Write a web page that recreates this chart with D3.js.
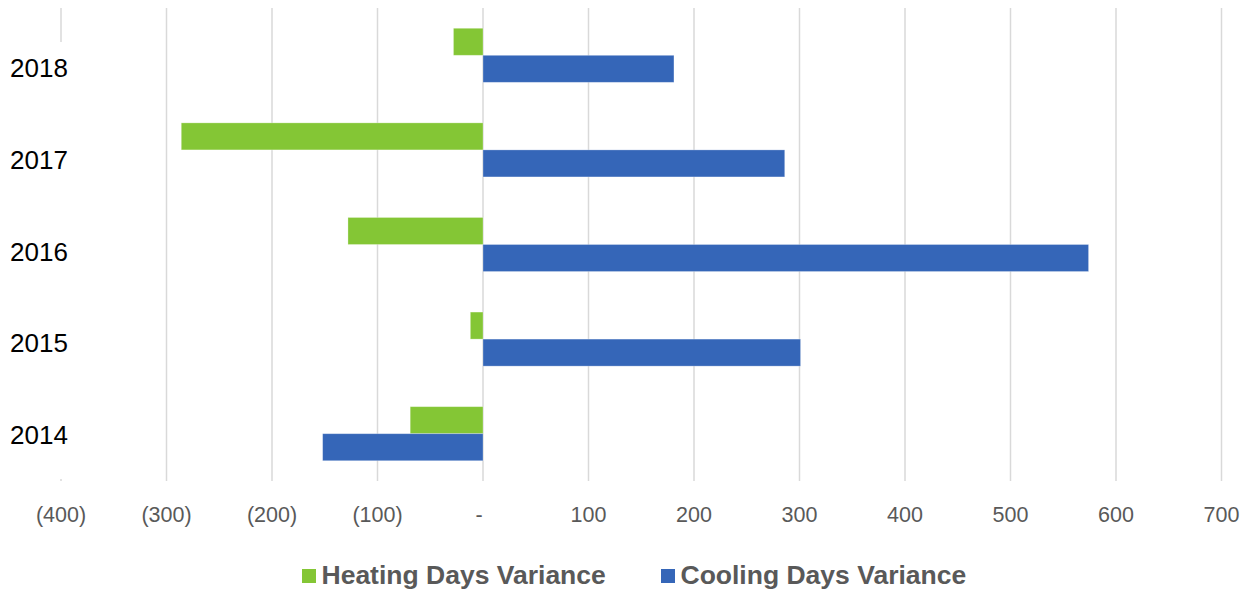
<!DOCTYPE html>
<html>
<head>
<meta charset="utf-8">
<script src="https://cdn.jsdelivr.net/npm/d3@7"></script>
<style>
  html, body { margin: 0; padding: 0; background: #fff; }
  svg { display: block; }
</style>
</head>
<body>
<svg id="chart" width="1248" height="593"></svg>
<script>
const categories = ["2018", "2017", "2016", "2015", "2014"];
const seriesNames = ["Heating Days Variance", "Cooling Days Variance"];
const heating = [-28, -286, -128, -12, -69];
const cooling = [181, 286, 574, 301, -152];
const tickValues = [-400, -300, -200, -100, 0, 100, 200, 300, 400, 500, 600, 700];
const colors = ["#84C635", "#3566B8"];

const svg = d3.select("#chart");

const x = d3.scaleLinear().domain([-400, 700]).range([61, 1221.5]);
const y = d3.scaleBand().domain(categories).range([8, 481]).paddingInner(0).paddingOuter(0);
const groupW = y.step() / 1.75;
const ySub = d3.scaleBand().domain(seriesNames).range([0, groupW]);
const yLabel = d3.scalePoint().domain(categories).range([67.5, 435]);

const fmt = v => v === 0 ? "-" : (v < 0 ? "(" + Math.abs(v) + ")" : String(v));

// gridlines
svg.append("g").selectAll("line").data(tickValues).join("line")
  .attr("x1", d => x(d)).attr("x2", d => x(d))
  .attr("y1", 8).attr("y2", 481)
  .attr("stroke", "#d9d9d9").attr("stroke-width", 1.5);

// label background (covers part of first gridline, as in reference)
svg.append("rect").attr("x", 4).attr("y", 42).attr("width", 72).attr("height", 437).attr("fill", "#fff");

// bars
const data = categories.map((c, i) => ({ cat: c, vals: [heating[i], cooling[i]] }));
const groups = svg.append("g").selectAll("g").data(data).join("g")
  .attr("transform", d => `translate(0,${y(d.cat) + (y.step() - groupW) / 2})`);
groups.selectAll("rect").data(d => d.vals.map((v, j) => ({ v, s: seriesNames[j], j }))).join("rect")
  .attr("x", d => Math.min(x(0), x(d.v)))
  .attr("width", d => Math.abs(x(d.v) - x(0)))
  .attr("y", d => ySub(d.s))
  .attr("height", ySub.bandwidth())
  .attr("fill", d => colors[d.j])
  .attr("stroke", "rgba(255,255,255,0.35)").attr("stroke-width", 0.8);

// category labels
svg.append("g").selectAll("text").data(categories).join("text")
  .attr("x", 10).attr("y", d => yLabel(d)).attr("dy", "0.36em")
  .attr("font-family", "Liberation Sans, Arial, sans-serif")
  .attr("font-size", 26).attr("fill", "#000")
  .text(d => d);

// x tick labels
svg.append("g").selectAll("text").data(tickValues).join("text")
  .attr("x", d => d === 0 ? x(d) - 4 : x(d)).attr("y", 521.5)
  .attr("text-anchor", "middle")
  .attr("font-family", "Liberation Sans, Arial, sans-serif")
  .attr("font-size", 21.5).attr("fill", "#595959")
  .text(fmt);

// legend
const legendX = [302, 661];
const lg = svg.append("g").selectAll("g").data(seriesNames).join("g")
  .attr("transform", (d, i) => `translate(${legendX[i]},0)`);
lg.append("rect").attr("x", 0).attr("y", 569).attr("width", 14).attr("height", 14)
  .attr("fill", (d, i) => colors[i]);
lg.append("text").attr("x", 19.5).attr("y", 583.5)
  .attr("font-family", "Liberation Sans, Arial, sans-serif")
  .attr("font-weight", "bold").attr("font-size", 26.5).attr("fill", "#595959")
  .text(d => d);
</script>
</body>
</html>
